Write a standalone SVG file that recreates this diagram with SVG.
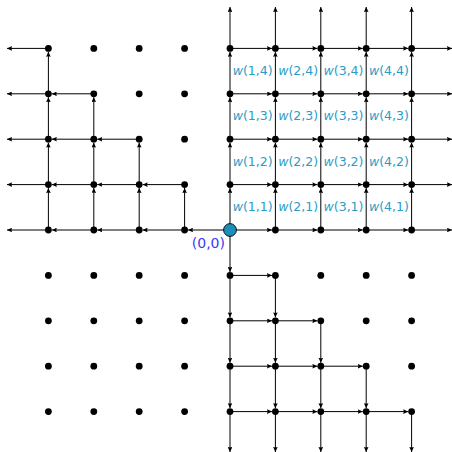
<svg xmlns="http://www.w3.org/2000/svg" width="452" height="452" viewBox="0 0 452 452">
<style>
.e{fill:none;stroke:#000;stroke-width:1;marker-end:url(#ah)}
.d{fill:#000}
.w{font-family:"DejaVu Sans",sans-serif;font-size:12.5px;fill:#2b9cc4;text-anchor:middle}
.o{font-family:"DejaVu Sans",sans-serif;font-size:14px;fill:#3a3af5;text-anchor:middle}
</style>
<defs>
<marker id="ah" viewBox="0 0 5 4.6" refX="5" refY="2.3" markerWidth="5" markerHeight="4.6" markerUnits="userSpaceOnUse" orient="auto">
<path d="M0,0 L5,2.3 L0,4.6 L0.6,2.3 Z" fill="#000"/>
</marker>
</defs>
<rect width="452" height="452" fill="#fff"/>
<g id="connectors">
<path class="e" d="M230 230H272"/><path class="e" d="M275.4 230H317.4"/><path class="e" d="M320.8 230H362.8"/><path class="e" d="M366.2 230H408.2"/><path class="e" d="M411.6 230H452"/>
<path class="e" d="M230 184.6H272"/><path class="e" d="M275.4 184.6H317.4"/><path class="e" d="M320.8 184.6H362.8"/><path class="e" d="M366.2 184.6H408.2"/><path class="e" d="M411.6 184.6H452"/>
<path class="e" d="M230 139.2H272"/><path class="e" d="M275.4 139.2H317.4"/><path class="e" d="M320.8 139.2H362.8"/><path class="e" d="M366.2 139.2H408.2"/><path class="e" d="M411.6 139.2H452"/>
<path class="e" d="M230 93.8H272"/><path class="e" d="M275.4 93.8H317.4"/><path class="e" d="M320.8 93.8H362.8"/><path class="e" d="M366.2 93.8H408.2"/><path class="e" d="M411.6 93.8H452"/>
<path class="e" d="M230 48.4H272"/><path class="e" d="M275.4 48.4H317.4"/><path class="e" d="M320.8 48.4H362.8"/><path class="e" d="M366.2 48.4H408.2"/><path class="e" d="M411.6 48.4H452"/>
<path class="e" d="M230 230V188"/><path class="e" d="M230 184.6V142.6"/><path class="e" d="M230 139.2V97.2"/><path class="e" d="M230 93.8V51.8"/><path class="e" d="M230 48.4V7"/>
<path class="e" d="M275.4 230V188"/><path class="e" d="M275.4 184.6V142.6"/><path class="e" d="M275.4 139.2V97.2"/><path class="e" d="M275.4 93.8V51.8"/><path class="e" d="M275.4 48.4V7"/>
<path class="e" d="M320.8 230V188"/><path class="e" d="M320.8 184.6V142.6"/><path class="e" d="M320.8 139.2V97.2"/><path class="e" d="M320.8 93.8V51.8"/><path class="e" d="M320.8 48.4V7"/>
<path class="e" d="M366.2 230V188"/><path class="e" d="M366.2 184.6V142.6"/><path class="e" d="M366.2 139.2V97.2"/><path class="e" d="M366.2 93.8V51.8"/><path class="e" d="M366.2 48.4V7"/>
<path class="e" d="M411.6 230V188"/><path class="e" d="M411.6 184.6V142.6"/><path class="e" d="M411.6 139.2V97.2"/><path class="e" d="M411.6 93.8V51.8"/><path class="e" d="M411.6 48.4V7"/>
<path class="e" d="M230 230H188"/><path class="e" d="M184.6 230H142.6"/><path class="e" d="M139.2 230H97.2"/><path class="e" d="M93.8 230H51.8"/><path class="e" d="M48.4 230H7"/>
<path class="e" d="M184.6 184.6H142.6"/><path class="e" d="M139.2 184.6H97.2"/><path class="e" d="M93.8 184.6H51.8"/><path class="e" d="M48.4 184.6H7"/>
<path class="e" d="M139.2 139.2H97.2"/><path class="e" d="M93.8 139.2H51.8"/><path class="e" d="M48.4 139.2H7"/>
<path class="e" d="M93.8 93.8H51.8"/><path class="e" d="M48.4 93.8H7"/>
<path class="e" d="M48.4 48.4H7"/>
<path class="e" d="M184.6 230V188"/>
<path class="e" d="M139.2 230V188"/><path class="e" d="M139.2 184.6V142.6"/>
<path class="e" d="M93.8 230V188"/><path class="e" d="M93.8 184.6V142.6"/><path class="e" d="M93.8 139.2V97.2"/>
<path class="e" d="M48.4 230V188"/><path class="e" d="M48.4 184.6V142.6"/><path class="e" d="M48.4 139.2V97.2"/><path class="e" d="M48.4 93.8V51.8"/>
<path class="e" d="M230 275.4H272"/>
<path class="e" d="M230 320.8H272"/><path class="e" d="M275.4 320.8H317.4"/>
<path class="e" d="M230 366.2H272"/><path class="e" d="M275.4 366.2H317.4"/><path class="e" d="M320.8 366.2H362.8"/>
<path class="e" d="M230 411.6H272"/><path class="e" d="M275.4 411.6H317.4"/><path class="e" d="M320.8 411.6H362.8"/><path class="e" d="M366.2 411.6H408.2"/>
<path class="e" d="M230 230V272"/><path class="e" d="M230 275.4V317.4"/><path class="e" d="M230 320.8V362.8"/><path class="e" d="M230 366.2V408.2"/><path class="e" d="M230 411.6V452"/>
<path class="e" d="M275.4 275.4V317.4"/><path class="e" d="M275.4 320.8V362.8"/><path class="e" d="M275.4 366.2V408.2"/><path class="e" d="M275.4 411.6V452"/>
<path class="e" d="M320.8 320.8V362.8"/><path class="e" d="M320.8 366.2V408.2"/><path class="e" d="M320.8 411.6V452"/>
<path class="e" d="M366.2 366.2V408.2"/><path class="e" d="M366.2 411.6V452"/>
<path class="e" d="M411.6 411.6V452"/>
</g>
<g id="nodes">
<g id="p-4_4"><circle class="d" cx="48.4" cy="48.4" r="3.4"/></g>
<g id="p-3_4"><circle class="d" cx="93.8" cy="48.4" r="3.4"/></g>
<g id="p-2_4"><circle class="d" cx="139.2" cy="48.4" r="3.4"/></g>
<g id="p-1_4"><circle class="d" cx="184.6" cy="48.4" r="3.4"/></g>
<g id="p0_4"><circle class="d" cx="230" cy="48.4" r="3.4"/></g>
<g id="p1_4"><circle class="d" cx="275.4" cy="48.4" r="3.4"/></g>
<g id="p2_4"><circle class="d" cx="320.8" cy="48.4" r="3.4"/></g>
<g id="p3_4"><circle class="d" cx="366.2" cy="48.4" r="3.4"/></g>
<g id="p4_4"><circle class="d" cx="411.6" cy="48.4" r="3.4"/></g>
<g id="p-4_3"><circle class="d" cx="48.4" cy="93.8" r="3.4"/></g>
<g id="p-3_3"><circle class="d" cx="93.8" cy="93.8" r="3.4"/></g>
<g id="p-2_3"><circle class="d" cx="139.2" cy="93.8" r="3.4"/></g>
<g id="p-1_3"><circle class="d" cx="184.6" cy="93.8" r="3.4"/></g>
<g id="p0_3"><circle class="d" cx="230" cy="93.8" r="3.4"/></g>
<g id="p1_3"><circle class="d" cx="275.4" cy="93.8" r="3.4"/></g>
<g id="p2_3"><circle class="d" cx="320.8" cy="93.8" r="3.4"/></g>
<g id="p3_3"><circle class="d" cx="366.2" cy="93.8" r="3.4"/></g>
<g id="p4_3"><circle class="d" cx="411.6" cy="93.8" r="3.4"/></g>
<g id="p-4_2"><circle class="d" cx="48.4" cy="139.2" r="3.4"/></g>
<g id="p-3_2"><circle class="d" cx="93.8" cy="139.2" r="3.4"/></g>
<g id="p-2_2"><circle class="d" cx="139.2" cy="139.2" r="3.4"/></g>
<g id="p-1_2"><circle class="d" cx="184.6" cy="139.2" r="3.4"/></g>
<g id="p0_2"><circle class="d" cx="230" cy="139.2" r="3.4"/></g>
<g id="p1_2"><circle class="d" cx="275.4" cy="139.2" r="3.4"/></g>
<g id="p2_2"><circle class="d" cx="320.8" cy="139.2" r="3.4"/></g>
<g id="p3_2"><circle class="d" cx="366.2" cy="139.2" r="3.4"/></g>
<g id="p4_2"><circle class="d" cx="411.6" cy="139.2" r="3.4"/></g>
<g id="p-4_1"><circle class="d" cx="48.4" cy="184.6" r="3.4"/></g>
<g id="p-3_1"><circle class="d" cx="93.8" cy="184.6" r="3.4"/></g>
<g id="p-2_1"><circle class="d" cx="139.2" cy="184.6" r="3.4"/></g>
<g id="p-1_1"><circle class="d" cx="184.6" cy="184.6" r="3.4"/></g>
<g id="p0_1"><circle class="d" cx="230" cy="184.6" r="3.4"/></g>
<g id="p1_1"><circle class="d" cx="275.4" cy="184.6" r="3.4"/></g>
<g id="p2_1"><circle class="d" cx="320.8" cy="184.6" r="3.4"/></g>
<g id="p3_1"><circle class="d" cx="366.2" cy="184.6" r="3.4"/></g>
<g id="p4_1"><circle class="d" cx="411.6" cy="184.6" r="3.4"/></g>
<g id="p-4_0"><circle class="d" cx="48.4" cy="230" r="3.4"/></g>
<g id="p-3_0"><circle class="d" cx="93.8" cy="230" r="3.4"/></g>
<g id="p-2_0"><circle class="d" cx="139.2" cy="230" r="3.4"/></g>
<g id="p-1_0"><circle class="d" cx="184.6" cy="230" r="3.4"/></g>
<g id="p1_0"><circle class="d" cx="275.4" cy="230" r="3.4"/></g>
<g id="p2_0"><circle class="d" cx="320.8" cy="230" r="3.4"/></g>
<g id="p3_0"><circle class="d" cx="366.2" cy="230" r="3.4"/></g>
<g id="p4_0"><circle class="d" cx="411.6" cy="230" r="3.4"/></g>
<g id="p-4_-1"><circle class="d" cx="48.4" cy="275.4" r="3.4"/></g>
<g id="p-3_-1"><circle class="d" cx="93.8" cy="275.4" r="3.4"/></g>
<g id="p-2_-1"><circle class="d" cx="139.2" cy="275.4" r="3.4"/></g>
<g id="p-1_-1"><circle class="d" cx="184.6" cy="275.4" r="3.4"/></g>
<g id="p0_-1"><circle class="d" cx="230" cy="275.4" r="3.4"/></g>
<g id="p1_-1"><circle class="d" cx="275.4" cy="275.4" r="3.4"/></g>
<g id="p2_-1"><circle class="d" cx="320.8" cy="275.4" r="3.4"/></g>
<g id="p3_-1"><circle class="d" cx="366.2" cy="275.4" r="3.4"/></g>
<g id="p4_-1"><circle class="d" cx="411.6" cy="275.4" r="3.4"/></g>
<g id="p-4_-2"><circle class="d" cx="48.4" cy="320.8" r="3.4"/></g>
<g id="p-3_-2"><circle class="d" cx="93.8" cy="320.8" r="3.4"/></g>
<g id="p-2_-2"><circle class="d" cx="139.2" cy="320.8" r="3.4"/></g>
<g id="p-1_-2"><circle class="d" cx="184.6" cy="320.8" r="3.4"/></g>
<g id="p0_-2"><circle class="d" cx="230" cy="320.8" r="3.4"/></g>
<g id="p1_-2"><circle class="d" cx="275.4" cy="320.8" r="3.4"/></g>
<g id="p2_-2"><circle class="d" cx="320.8" cy="320.8" r="3.4"/></g>
<g id="p3_-2"><circle class="d" cx="366.2" cy="320.8" r="3.4"/></g>
<g id="p4_-2"><circle class="d" cx="411.6" cy="320.8" r="3.4"/></g>
<g id="p-4_-3"><circle class="d" cx="48.4" cy="366.2" r="3.4"/></g>
<g id="p-3_-3"><circle class="d" cx="93.8" cy="366.2" r="3.4"/></g>
<g id="p-2_-3"><circle class="d" cx="139.2" cy="366.2" r="3.4"/></g>
<g id="p-1_-3"><circle class="d" cx="184.6" cy="366.2" r="3.4"/></g>
<g id="p0_-3"><circle class="d" cx="230" cy="366.2" r="3.4"/></g>
<g id="p1_-3"><circle class="d" cx="275.4" cy="366.2" r="3.4"/></g>
<g id="p2_-3"><circle class="d" cx="320.8" cy="366.2" r="3.4"/></g>
<g id="p3_-3"><circle class="d" cx="366.2" cy="366.2" r="3.4"/></g>
<g id="p4_-3"><circle class="d" cx="411.6" cy="366.2" r="3.4"/></g>
<g id="p-4_-4"><circle class="d" cx="48.4" cy="411.6" r="3.4"/></g>
<g id="p-3_-4"><circle class="d" cx="93.8" cy="411.6" r="3.4"/></g>
<g id="p-2_-4"><circle class="d" cx="139.2" cy="411.6" r="3.4"/></g>
<g id="p-1_-4"><circle class="d" cx="184.6" cy="411.6" r="3.4"/></g>
<g id="p0_-4"><circle class="d" cx="230" cy="411.6" r="3.4"/></g>
<g id="p1_-4"><circle class="d" cx="275.4" cy="411.6" r="3.4"/></g>
<g id="p2_-4"><circle class="d" cx="320.8" cy="411.6" r="3.4"/></g>
<g id="p3_-4"><circle class="d" cx="366.2" cy="411.6" r="3.4"/></g>
<g id="p4_-4"><circle class="d" cx="411.6" cy="411.6" r="3.4"/></g>
<g id="origin"><circle cx="230" cy="230" r="6.4" fill="#1a8fb7" stroke="#000" stroke-width="0.9"/><text class="o" x="208.4" y="248">(0,0)</text></g>
</g>
<g id="labels">
<text class="w" x="252.7" y="75"><tspan font-style="italic">w</tspan>(1,4)</text>
<text class="w" x="298.1" y="75"><tspan font-style="italic">w</tspan>(2,4)</text>
<text class="w" x="343.5" y="75"><tspan font-style="italic">w</tspan>(3,4)</text>
<text class="w" x="388.9" y="75"><tspan font-style="italic">w</tspan>(4,4)</text>
<text class="w" x="252.7" y="120.4"><tspan font-style="italic">w</tspan>(1,3)</text>
<text class="w" x="298.1" y="120.4"><tspan font-style="italic">w</tspan>(2,3)</text>
<text class="w" x="343.5" y="120.4"><tspan font-style="italic">w</tspan>(3,3)</text>
<text class="w" x="388.9" y="120.4"><tspan font-style="italic">w</tspan>(4,3)</text>
<text class="w" x="252.7" y="165.8"><tspan font-style="italic">w</tspan>(1,2)</text>
<text class="w" x="298.1" y="165.8"><tspan font-style="italic">w</tspan>(2,2)</text>
<text class="w" x="343.5" y="165.8"><tspan font-style="italic">w</tspan>(3,2)</text>
<text class="w" x="388.9" y="165.8"><tspan font-style="italic">w</tspan>(4,2)</text>
<text class="w" x="252.7" y="211.2"><tspan font-style="italic">w</tspan>(1,1)</text>
<text class="w" x="298.1" y="211.2"><tspan font-style="italic">w</tspan>(2,1)</text>
<text class="w" x="343.5" y="211.2"><tspan font-style="italic">w</tspan>(3,1)</text>
<text class="w" x="388.9" y="211.2"><tspan font-style="italic">w</tspan>(4,1)</text>
</g>
</svg>
